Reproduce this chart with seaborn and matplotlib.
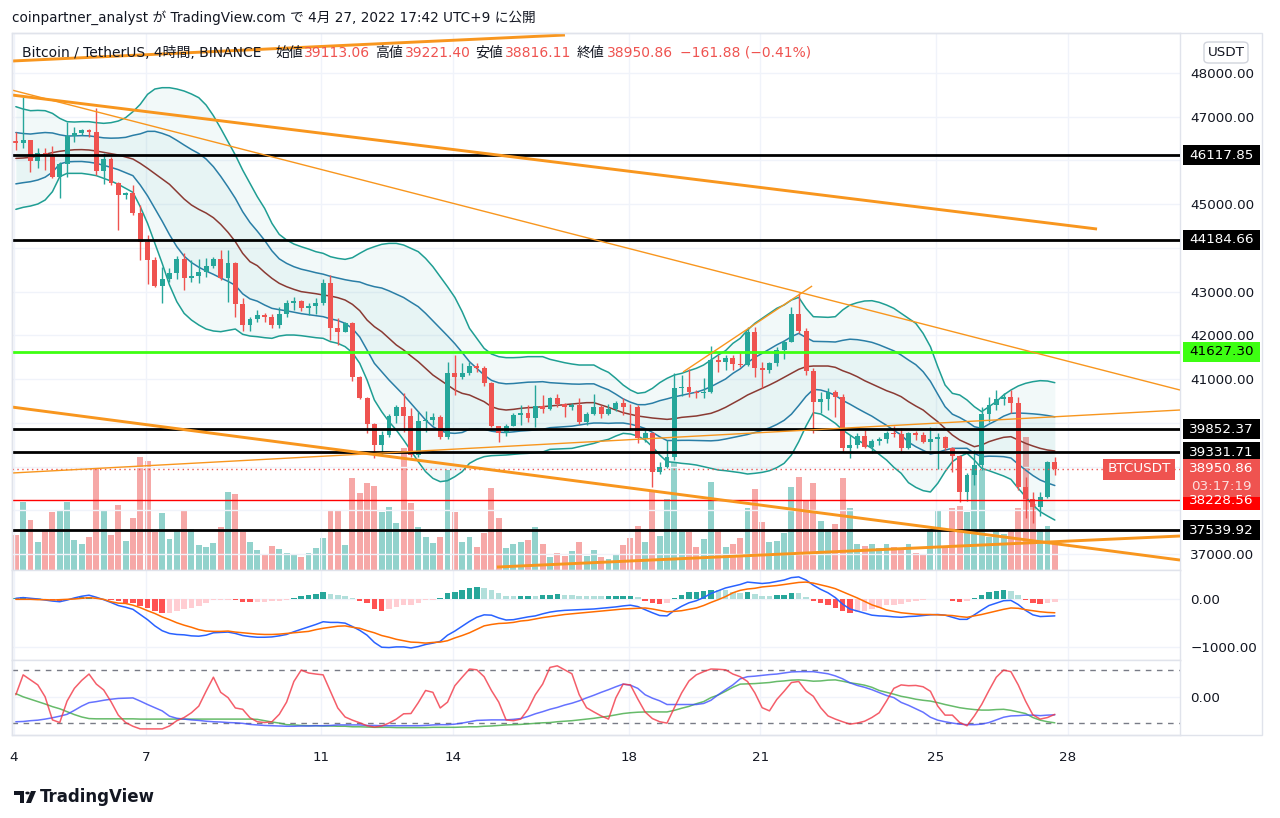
import numpy as np
import pandas as pd
import matplotlib
matplotlib.use("Agg")
import matplotlib.pyplot as plt
import seaborn as sns
from matplotlib.patches import Rectangle, FancyBboxPatch, Polygon, Circle
from matplotlib.transforms import blended_transform_factory

# ---- values: BTCUSDT 4h (Binance), Apr 4 - Apr 27 2022 ----
first_open = 46450
close_px = [46410, 46460, 45995, 46163, 46100, 45629, 45919, 46559, 46635, 46696,
            46660, 45766, 46025, 45477, 45210, 45263, 44806, 44143, 43723, 43129,
            43282, 43434, 43746, 43304, 43365, 43457, 43594, 43746, 43304, 43647,
            42717, 42237, 42367, 42465, 42412, 42237, 42488, 42748, 42793, 42618,
            42679, 42732, 43205, 42160, 42084, 42275, 41055, 40560, 39973, 39493,
            39721, 40155, 40354, 40155, 39264, 40049, 40068, 40125, 39683, 41131,
            41040, 41131, 41299, 41245, 40903, 39927, 39759, 39927, 40178, 40232,
            40110, 40383, 40308, 40560, 40430, 40369, 40405, 40026, 40201, 40369,
            40201, 40308, 40445, 40369, 40354, 39645, 39775, 38882, 38981, 39226,
            40790, 40820, 40700, 40680, 40712, 41436, 41398, 41474, 41345, 41322,
            42084, 41246, 41200, 41360, 41665, 41856, 42500, 42107, 41192, 40484,
            40550, 40712, 40590, 39416, 39492, 39698, 39439, 39591, 39622, 39774,
            39743, 39416, 39759, 39721, 39568, 39622, 39683, 39416, 39241, 38425,
            38806, 39035, 40202, 40408, 40537, 40583, 40446, 38539, 38250, 38083,
            38311, 39113.06, 38950.86]
high_px = [46660, 47443, 46470, 46277, 46277, 46330, 45970, 46887, 46770, 46730,
           46730, 47192, 46160, 46090, 45510, 45290, 45440, 44990, 44290, 43800,
           43570, 43530, 43815, 43875, 43720, 43740, 43760, 43800, 43950, 43950,
           43680, 42850, 42430, 42580, 42520, 42500, 42640, 42810, 42885, 42810,
           42730, 42850, 43280, 43380, 42390, 42310, 42310, 41060, 40600, 40000,
           39820, 40200, 40410, 40675, 40350, 40280, 40260, 40220, 40180, 41398,
           41550, 41360, 41400, 41375, 41300, 40940, 39900, 39970, 40230, 40410,
           40410, 40864, 40640, 40598, 40670, 40450, 40460, 40560, 40240, 40670,
           40410, 40430, 40510, 40560, 40430, 40400, 39840, 39790, 39110, 39610,
           41131, 41100, 41240, 40750, 41020, 41756, 41550, 41550, 41550, 41627,
           42200, 42200, 41400, 41400, 41740, 41893, 42650, 42960, 42160, 41260,
           40700, 40790, 40750, 40670, 39720, 39760, 39830, 39640, 39680, 39820,
           39925, 39880, 39780, 39820, 39790, 39910, 39775, 39700, 39450, 39270,
           38860, 39380, 40370, 40600, 40750, 40675, 40750, 40600, 38760, 38425,
           38410, 39130, 39221.40]
low_px = [46240, 46277, 45743, 45820, 45780, 45591, 45133, 45629, 46430, 46580,
          46530, 45670, 45460, 45430, 44409, 45130, 44760, 43723, 43175, 43110,
          42732, 43230, 43300, 43030, 43230, 43205, 43340, 43530, 43270, 42770,
          42412, 42107, 42107, 42310, 42310, 42160, 42160, 42430, 42580, 42565,
          42465, 42500, 42700, 41893, 41780, 42080, 40960, 40540, 39760, 39188,
          39260, 39680, 39990, 39800, 39215, 39215, 39800, 39950, 39640, 39620,
          40640, 41010, 41093, 41170, 40840, 39910, 39570, 39700, 39920, 39940,
          40030, 39910, 40216, 40290, 40370, 40125, 40290, 39980, 39950, 40170,
          40100, 40170, 40280, 40180, 39840, 39530, 39560, 38524, 38820, 38960,
          39150, 40610, 40600, 40560, 40560, 40680, 41170, 41210, 41210, 41285,
          41300, 41055, 40790, 41130, 41300, 41470, 41850, 42060, 41100, 39760,
          40230, 40290, 40140, 39340, 39190, 39420, 39420, 39300, 39490, 39530,
          39680, 39300, 39390, 39610, 39530, 39370, 38940, 39380, 38880, 38197,
          38220, 38580, 38920, 40030, 40290, 40410, 40230, 38460, 37815, 37700,
          37880, 38290, 38816.11]
volume = [4200, 8160, 6000, 3360, 4680, 6960, 7080, 8160, 3600, 3120,
          3960, 12240, 7080, 4200, 7800, 3480, 6240, 13560, 13080, 4560,
          6840, 3720, 4800, 7080, 4920, 3000, 2760, 3240, 5160, 9360,
          9120, 4560, 3360, 2400, 1920, 2880, 2520, 2040, 1920, 1560,
          2040, 2640, 3840, 7080, 7080, 3000, 11040, 9240, 10440, 10080,
          6960, 7560, 5640, 14640, 8040, 5160, 3960, 3240, 3960, 12000,
          6960, 3360, 3960, 2760, 4440, 9840, 6240, 2640, 3120, 3360,
          3600, 5160, 3120, 1560, 2040, 1680, 2280, 3360, 1680, 2400,
          1560, 1320, 1920, 3000, 3840, 5280, 3360, 9360, 4080, 8520,
          12960, 4560, 4560, 2760, 3720, 10560, 4800, 2760, 3120, 3840,
          7440, 9720, 5760, 3360, 3480, 4440, 9960, 11160, 8280, 10440,
          5880, 4920, 5520, 11040, 7440, 3120, 2880, 3120, 2640, 3120,
          2760, 2520, 3120, 2040, 1920, 4800, 7200, 2640, 7440, 7680,
          6960, 12120, 12000, 3960, 4680, 4320, 4800, 7440, 15960, 7920,
          4920, 5280, 3360]

# Bollinger bands (upper / basis / lower, 2 sigma); inner lines are the 1 sigma bands
bb_upper = [47230, 47176, 47138, 47146, 47138, 47077, 46963, 46887, 46879, 46887,
            46887, 46864, 46849, 46864, 46902, 46978, 47115, 47283, 47512, 47634,
            47664, 47664, 47634, 47588, 47520, 47436, 47268, 47024, 46734, 46429,
            46124, 45781, 45477, 45172, 44905, 44562, 44310, 44181, 44089, 44028,
            43975, 43914, 43876, 43799, 43761, 43738, 43777, 43876, 43967, 44028,
            44082, 44104, 44104, 44066, 43990, 43914, 43761, 43571, 43342, 43113,
            42869, 42542, 42161, 41932, 41703, 41574, 41513, 41490, 41490, 41497,
            41513, 41513, 41513, 41452, 41414, 41375, 41345, 41322, 41322, 41322,
            41230, 41154, 41017, 40865, 40750, 40674, 40697, 40788, 40918, 41017,
            41093, 41131, 41192, 41246, 41322, 41436, 41551, 41650, 41817, 41932,
            42122, 42275, 42389, 42504, 42618, 42694, 42808, 42869, 42618, 42427,
            42420, 42412, 42427, 42580, 42694, 42748, 42786, 42793, 42755, 42694,
            42618, 42503, 42389, 42275, 42046, 41741, 41284, 40865, 40674, 40636,
            40522, 40369, 40255, 40369, 40484, 40636, 40750, 40842, 40903, 40941,
            40964, 40956, 40918]
bb_basis = [46048, 46056, 46071, 46102, 46140, 46180, 46210, 46230, 46245, 46248,
            46239, 46216, 46186, 46155, 46125, 46079, 46033, 45934, 45820, 45698,
            45576, 45454, 45286, 45118, 44981, 44882, 44798, 44691, 44539, 44356,
            44143, 43876, 43685, 43594, 43441, 43304, 43190, 43113, 43052, 43000,
            42976, 42953, 42923, 42900, 42862, 42808, 42709, 42565, 42351, 42199,
            42084, 41932, 41780, 41665, 41528, 41398, 41246, 41093, 40979, 40865,
            40750, 40674, 40636, 40560, 40484, 40369, 40315, 40293, 40308, 40331,
            40346, 40354, 40369, 40384, 40400, 40415, 40430, 40445, 40461, 40461,
            40407, 40354, 40293, 40232, 40194, 40156, 40133, 40110, 40095, 40079,
            40095, 40125, 40141, 40156, 40186, 40217, 40278, 40354, 40445, 40537,
            40636, 40712, 40788, 40865, 40949, 41040, 41131, 41223, 41284, 41299,
            41299, 41299, 41269, 41192, 41131, 41055, 40964, 40888, 40811, 40735,
            40674, 40598, 40484, 40384, 40293, 40156, 40026, 39873, 39721, 39607,
            39531, 39454, 39492, 39569, 39622, 39668, 39683, 39607, 39531, 39470,
            39416, 39378, 39355]
bb_lower = [44882, 44928, 44958, 45004, 45095, 45286, 45629, 45705, 45705, 45705,
            45682, 45652, 45591, 45530, 45454, 45362, 45271, 44943, 44562, 44104,
            43647, 43151, 42770, 42503, 42351, 42237, 42145, 42100, 42084, 42115,
            42145, 42024, 41985, 41970, 41947, 41932, 41985, 42008, 42008, 41993,
            41970, 41947, 41932, 41856, 41818, 41742, 41604, 41360, 40979, 40522,
            40255, 40026, 39835, 39606, 39363, 39111, 38883, 38730, 38654, 38677,
            38768, 38883, 39073, 39165, 39226, 39249, 39256, 39264, 39279, 39294,
            39302, 39317, 39332, 39393, 39401, 39408, 39416, 39454, 39492, 39530,
            39584, 39622, 39698, 39759, 39744, 39698, 39607, 39454, 39264, 39111,
            39096, 39073, 39058, 39035, 38997, 38959, 38921, 38905, 38883, 38860,
            38829, 38845, 38867, 38905, 38974, 39073, 39264, 39569, 39927, 40232,
            40201, 40102, 39988, 39835, 39721, 39606, 39515, 39416, 39279, 39149,
            38982, 38845, 38631, 38524, 38449, 38418, 38616, 38883, 39111, 39226,
            39302, 39149, 38959, 38905, 38845, 38784, 38707, 38502, 38311, 38120,
            37968, 37869, 37777]

# MACD panel
macd_line = [14, 29, 14, 0, -22, -43, -57, -22, 22, 57,
             79, 36, -14, -72, -136, -172, -215, -323, -431, -560,
             -661, -718, -739, -747, -768, -775, -754, -704, -696, -689,
             -718, -761, -783, -797, -797, -790, -768, -739, -682, -632,
             -582, -531, -474, -488, -488, -503, -574, -653, -754, -905,
             -1005, -1012, -998, -998, -1020, -991, -948, -919, -883, -754,
             -668, -567, -467, -381, -330, -337, -395, -438, -431, -402,
             -373, -352, -309, -273, -251, -237, -230, -223, -215, -208,
             -194, -179, -165, -144, -129, -158, -223, -287, -345, -352,
             -237, -151, -79, -36, 29, 115, 172, 230, 266, 302,
             352, 337, 323, 337, 366, 395, 445, 460, 395, 287,
             201, 129, 29, -108, -208, -251, -294, -337, -352, -359,
             -373, -381, -366, -359, -345, -330, -323, -337, -381, -424,
             -424, -330, -230, -136, -86, -36, -29, -115, -237, -330,
             -366, -359, -352]
macd_signal = [-7, -7, -7, -14, -14, -22, -14, -7, 0, 14,
               29, 14, -7, -57, -86, -93, -129, -180, -244, -302,
               -373, -431, -495, -546, -589, -639, -668, -675, -675, -668,
               -689, -704, -718, -732, -739, -739, -732, -718, -704, -689,
               -675, -639, -610, -589, -567, -560, -589, -610, -661, -704,
               -761, -797, -840, -869, -898, -905, -919, -905, -898, -869,
               -811, -761, -704, -632, -560, -531, -510, -503, -488, -459,
               -445, -416, -388, -366, -345, -323, -309, -294, -280, -266,
               -251, -237, -223, -208, -201, -194, -187, -208, -237, -266,
               -258, -244, -215, -187, -136, -72, -14, 50, 129, 180,
               208, 223, 251, 266, 280, 302, 323, 345, 352, 330,
               294, 258, 215, 151, 86, 22, -50, -122, -172, -230,
               -258, -287, -302, -316, -323, -323, -330, -337, -345, -366,
               -381, -352, -323, -287, -251, -215, -187, -194, -223, -244,
               -266, -280, -287]

# oscillator panel (dashed bands at +/-100)
osc_red = [7, 82, 63, 44, -1, -88, -98, -17, 31, 61,
           85, 47, 25, -19, -70, -98, -112, -122, -122, -122,
           -122, -111, -91, -79, -61, -36, 20, 73, 16, -4,
           -43, -48, -80, -95, -98, -95, -67, -21, 57, 100,
           89, 85, 82, 20, -43, -77, -89, -99, -110, -115,
           -111, -100, -85, -65, -64, -23, 23, 16, -43, -21,
           41, 73, 104, 101, 75, 23, -21, -88, -91, -85,
           -48, 7, 47, 110, 116, 101, 86, 7, -42, -58,
           -73, -85, -5, 47, 44, -9, -58, -83, -95, -100,
           -42, 14, 59, 82, 94, 104, 103, 101, 85, 75,
           57, 14, -42, -54, -11, 20, 53, 57, 21, 1,
           -42, -73, -85, -95, -104, -100, -93, -79, -61, -17,
           31, 44, 41, 42, 37, 20, -36, -70, -70, -98,
           -110, -73, -30, 23, 73, 100, 94, 44, -17, -69,
           -85, -79, -67]
osc_blue = [-95, -94, -91, -89, -85, -80, -74, -67, -52, -36,
            -23, -19, -14, -10, -7, -6, -5, -17, -30, -42,
            -54, -74, -82, -85, -88, -90, -93, -95, -96, -98,
            -99, -101, -105, -107, -109, -110, -111, -112, -112, -111,
            -111, -110, -110, -109, -107, -107, -107, -107, -109, -109,
            -110, -110, -110, -110, -110, -110, -109, -107, -106, -106,
            -104, -100, -95, -90, -89, -88, -88, -88, -86, -83,
            -75, -65, -57, -48, -41, -32, -25, -16, -5, 5,
            16, 26, 37, 47, 43, 31, 7, -6, -16, -30,
            -30, -30, -30, -30, -26, -14, 7, 26, 44, 67,
            75, 77, 80, 83, 85, 89, 93, 94, 94, 94,
            90, 86, 78, 67, 52, 42, 35, 26, 15, 4,
            -4, -22, -33, -46, -59, -78, -89, -95, -100, -104,
            -106, -106, -104, -98, -88, -78, -73, -72, -70, -70,
            -72, -70, -69]
osc_green = [11, -1, -10, -19, -28, -38, -46, -57, -68, -77,
             -83, -84, -84, -84, -84, -84, -84, -85, -85, -85,
             -85, -85, -85, -85, -85, -85, -85, -85, -85, -85,
             -85, -85, -85, -86, -91, -96, -100, -106, -107, -109,
             -110, -110, -111, -111, -112, -112, -114, -114, -115, -116,
             -116, -116, -117, -117, -117, -117, -117, -116, -116, -116,
             -116, -115, -114, -114, -112, -111, -109, -107, -106, -105,
             -103, -101, -99, -98, -95, -93, -91, -88, -85, -82,
             -78, -74, -69, -64, -61, -59, -58, -58, -58, -58,
             -52, -44, -37, -27, -19, -4, 6, 20, 35, 47,
             48, 49, 51, 53, 57, 59, 62, 63, 61, 58,
             59, 62, 63, 58, 52, 48, 43, 35, 23, 16,
             9, 1, -4, -10, -14, -17, -23, -30, -36, -42,
             -46, -49, -51, -51, -49, -48, -52, -58, -64, -79,
             -89, -95, -99]

black_levels = [46117.85, 44184.66, 39852.37, 39331.71, 37539.92]
green_level = 41627.30
red_level = 38228.56
last_price = 38950.86
countdown = "03:17:19"

# price-scale labels that are not hidden behind the level tags
price_ticks = [37000, 38000, 39000, 40000, 41000, 42000, 43000, 44000, 45000, 46000, 47000, 48000]
shown_ticks = [37000, 41000, 42000, 43000, 45000, 47000, 48000]

# hand-drawn trend lines: (day0, price0, day1, price1, width)
trend_lines = [
    (3.95, 48274, 16.55, 48869, 2.1),
    (3.95, 47497, 28.67, 44432, 2.1),
    (3.95, 47611, 30.56, 40750, 1.0),
    (3.95, 40361, 30.56, 36862, 2.1),
    (3.95, 38852, 30.56, 40293, 1.0),
    (15.0, 36702, 30.56, 37411, 2.1),
    (19.24, 41162, 22.18, 43129, 1.0),
]
day_ticks = [4, 7, 11, 14, 18, 21, 25, 28]

n = len(close_px)
for arr in (high_px, low_px, volume, bb_upper, bb_basis, bb_lower, macd_line,
            macd_signal, osc_red, osc_blue, osc_green):
    assert len(arr) == n, len(arr)

# ---- style ----
sns.set_theme(style="white")
plt.rcParams["font.family"] = ["DejaVu Sans", "Noto Sans CJK JP"]
TXT = "#131722"
UP, DN = "#26a69a", "#ef5350"
GRID = "#f0f3fa"
EDGE = "#e0e3eb"
ORANGE = "#f8961e"
FS = 9.7

W, H = 1280, 818
fig = plt.figure(figsize=(12.8, 8.18), dpi=100)
fig.patch.set_facecolor("white")

def rect(x0, y0, x1, y1):
    return [x0 / W, 1 - y1 / H, (x1 - x0) / W, (y1 - y0) / H]

ax_vol = fig.add_axes(rect(12, 33, 1180, 570), label="vol")
ax = fig.add_axes(rect(12, 33, 1180, 570), label="price")
ax2 = fig.add_axes(rect(12, 570, 1180, 660), label="macd")
ax3 = fig.add_axes(rect(12, 660, 1180, 735), label="osc")
ax.patch.set_visible(False)

dates = pd.date_range("2022-04-04 01:00", periods=n, freq="4h")
x = np.asarray(dates.day + dates.hour / 24.0, dtype=float)
xlim = (3.954, 30.56)

o = np.r_[first_open, np.asarray(close_px[:-1], float)]
c = np.asarray(close_px, float)
h = np.maximum(np.asarray(high_px, float), np.maximum(o, c))
l = np.minimum(np.asarray(low_px, float), np.minimum(o, c))
is_up = c >= o
col = np.where(is_up, UP, DN)

ymin, ymax = 36634, 48915
ppx = (ymax - ymin) / 537.0  # price per pixel

# volume (bottom layer)
ax_vol.bar(x, volume, width=0.135, color=col, alpha=0.5, linewidth=0)
ax_vol.set_xlim(xlim)
ax_vol.set_ylim(0, 537 * 120)
ax_vol.axis("off")

# price panel
ax.set_xlim(xlim)
ax.set_ylim(ymin, ymax)
ax.set_yticks(price_ticks)
ax.set_yticklabels([f"{v:.2f}" if v in shown_ticks else "" for v in price_ticks])
ax.set_xticks(day_ticks)
ax.tick_params(axis="x", labelbottom=False, length=0)
for a in (ax, ax2, ax3):
    a.yaxis.tick_right()
    a.tick_params(axis="y", length=0, pad=7.5, labelsize=FS, labelcolor=TXT)
    a.grid(True, color=GRID, linewidth=1)
    a.set_axisbelow(True)
    for s in a.spines.values():
        s.set_color(EDGE)
        s.set_linewidth(1)

up_b = np.asarray(bb_upper, float)
mid_b = np.asarray(bb_basis, float)
lo_b = np.asarray(bb_lower, float)
up_in = mid_b + (up_b - mid_b) / 2
lo_in = mid_b - (mid_b - lo_b) / 2
ax.fill_between(x, lo_b, up_b, color="#26a69a", alpha=0.06, linewidth=0, zorder=1)
ax.fill_between(x, lo_in, up_in, color="#26a69a", alpha=0.05, linewidth=0, zorder=1)
sns.lineplot(x=x, y=up_b, ax=ax, color="#1f9e93", linewidth=1.1, legend=False, zorder=2)
sns.lineplot(x=x, y=lo_b, ax=ax, color="#1f9e93", linewidth=1.1, legend=False, zorder=2)
sns.lineplot(x=x, y=up_in, ax=ax, color="#2a7ea6", linewidth=1.1, legend=False, zorder=2)
sns.lineplot(x=x, y=lo_in, ax=ax, color="#2a7ea6", linewidth=1.1, legend=False, zorder=2)
sns.lineplot(x=x, y=mid_b, ax=ax, color="#8a3a33", linewidth=1.1, legend=False, zorder=2)

# candles
ax.vlines(x, l, h, colors=col, linewidth=1, zorder=3)
ax.bar(x, np.maximum(np.abs(c - o), 14), bottom=np.minimum(o, c), width=0.112,
       color=col, linewidth=0, zorder=3.1)

# horizontal levels and price line
for lv in black_levels:
    ax.axhline(lv, color="#000000", linewidth=2.0, zorder=4)
ax.axhline(green_level, color="#3dff12", linewidth=2.0, zorder=4)
ax.axhline(red_level, color="#ff0000", linewidth=1.0, zorder=4)
ax.axhline(last_price, color=DN, linewidth=1.0, linestyle=(0, (1, 2.5)), zorder=4)

for d0, p0, d1, p1, lw in trend_lines:
    ax.plot([d0, d1], [p0, p1], color=ORANGE, linewidth=lw, solid_capstyle="butt", zorder=4.5)
ax.set_xlabel("")
ax.set_ylabel("")

# price-scale tags
trans_tag = blended_transform_factory(fig.transFigure, ax.transData)

def price_tag(price, text, fc, tc, x0=1183, w=77, top=10, hpx=20, sub=None):
    ax.add_patch(Rectangle((x0 / W, price - (hpx - top) * ppx), w / W, hpx * ppx,
                           transform=trans_tag, facecolor=fc, edgecolor="none",
                           clip_on=False, zorder=10))
    ax.text((x0 + w / 2) / W, price, text, transform=trans_tag, ha="center", va="center",
            fontsize=FS, color=tc, clip_on=False, zorder=11)
    if sub:
        ax.text((x0 + w / 2) / W, price - 18 * ppx, sub, transform=trans_tag, ha="center",
                va="center", fontsize=FS, color=tc, alpha=0.8, clip_on=False, zorder=11)

for lv in black_levels:
    price_tag(lv, f"{lv:.2f}", "#000000", "white")
price_tag(green_level, f"{green_level:.2f}", "#3dff12", "#000000")
price_tag(red_level, f"{red_level:.2f}", "#ff0000", "white")
price_tag(last_price, f"{last_price:.2f}", DN, "white", top=10, hpx=38, sub=countdown)
price_tag(last_price, "BTCUSDT", DN, "white", x0=1103, w=72, top=10, hpx=21)

# MACD panel
m = np.asarray(macd_line, float)
sgl = np.asarray(macd_signal, float)
hist = m - sgl
prev = np.r_[hist[0], hist[:-1]]
hcol = np.where(hist >= 0, np.where(hist >= prev, "#26a69a", "#b2dfdb"),
                np.where(hist < prev, "#ff5252", "#ffcdd2"))
ax2.bar(x, hist, width=0.125, color=hcol, linewidth=0, zorder=2)
sns.lineplot(x=x, y=m, ax=ax2, color="#2962ff", linewidth=1.1, legend=False, zorder=3)
sns.lineplot(x=x, y=sgl, ax=ax2, color="#ff6d00", linewidth=1.1, legend=False, zorder=3)
ax2.set_xlim(xlim)
ax2.set_ylim(-1271, 604)
ax2.set_yticks([0, -1000])
ax2.set_yticklabels(["0.00", "\u22121000.00"])
ax2.set_xticks(day_ticks)
ax2.tick_params(axis="x", labelbottom=False, length=0)
ax2.set_xlabel("")
ax2.set_ylabel("")

# oscillator panel
ax3.axhline(100, color="#787b86", linewidth=1, linestyle=(0, (4, 4)), zorder=1)
ax3.axhline(-100, color="#787b86", linewidth=1, linestyle=(0, (4, 4)), zorder=1)
sns.lineplot(x=x, y=osc_green, ax=ax3, color="#4caf50", alpha=0.85, linewidth=1.1, legend=False)
sns.lineplot(x=x, y=osc_blue, ax=ax3, color="#3f4fff", alpha=0.8, linewidth=1.1, legend=False)
sns.lineplot(x=x, y=osc_red, ax=ax3, color="#f23645", alpha=0.8, linewidth=1.1, legend=False)
ax3.set_xlim(xlim)
ax3.set_ylim(-145, 138)
ax3.set_yticks([0])
ax3.set_yticklabels(["0.00"])
ax3.set_xticks(day_ticks)
ax3.set_xticklabels([str(d) for d in day_ticks])
ax3.tick_params(axis="x", length=0, pad=11.5, labelsize=FS, labelcolor=TXT)
ax3.set_xlabel("")
ax3.set_ylabel("")

# outer frame of the chart area
fig.add_artist(Rectangle((12 / W, 1 - 735 / H), 1250 / W, 702 / H, transform=fig.transFigure,
                         fill=False, edgecolor=EDGE, linewidth=1))

# header and legend
fig.text(12 / W, 1 - 18 / H, "coinpartner_analyst が TradingView.com で 4月 27, 2022 17:42 UTC+9 に公開",
         fontsize=9.85, color=TXT, va="center")
legend_parts = [
    (22, "Bitcoin / TetherUS, 4時間, BINANCE", TXT),
    (275, "始値", TXT), (304, "39113.06", DN),
    (375, "高値", TXT), (405, "39221.40", DN),
    (475, "安値", TXT), (505, "38816.11", DN),
    (577, "終値", TXT), (607, "38950.86", DN),
    (680, "\u2212161.88 (\u22120.41%)", DN),
]
for px_, s, cc in legend_parts:
    fig.text(px_ / W, 1 - 53 / H, s, fontsize=10, color=cc, va="center")

fig.add_artist(FancyBboxPatch((1204 / W, 1 - 63 / H), 44 / W, 21 / H,
                              boxstyle="round,pad=0,rounding_size=0.004",
                              transform=fig.transFigure, facecolor="white",
                              edgecolor="#d1d4dc", linewidth=1))
fig.text(1226 / W, 1 - 52.5 / H, "USDT", fontsize=FS, color=TXT, ha="center", va="center")

# TradingView mark at the bottom
def P(px_, py_):
    return (px_ / W, 1 - py_ / H)

fig.add_artist(Polygon([P(14, 791), P(24, 791), P(24, 803), P(19.5, 803), P(19.5, 795), P(14, 795)],
                       closed=True, transform=fig.transFigure, facecolor=TXT, edgecolor="none"))
fig.add_artist(Circle(P(27.5, 793), 2.2 / W, transform=fig.transFigure, facecolor=TXT, edgecolor="none"))
fig.add_artist(Polygon([P(31, 791), P(36, 791), P(31, 803), P(26, 803)],
                       closed=True, transform=fig.transFigure, facecolor=TXT, edgecolor="none"))
fig.text(40 / W, 1 - 797 / H, "TradingView", fontsize=12, fontweight="bold", color=TXT, va="center")

fig.savefig("out.png", dpi=100, facecolor="white")
